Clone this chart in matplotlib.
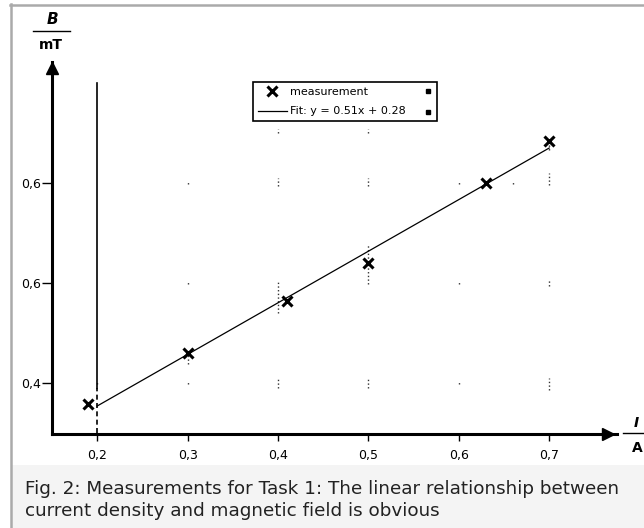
import matplotlib
matplotlib.use("Agg")
import matplotlib.pyplot as plt
from matplotlib.lines import Line2D
from matplotlib.patches import Rectangle

meas_x = [0.19, 0.30, 0.41, 0.50, 0.63, 0.70]
meas_y = [0.358, 0.460, 0.564, 0.641, 0.800, 0.884]
fit_x = [0.20, 0.70]
fit_y = [0.354, 0.870]

x_ticks = [0.2, 0.3, 0.4, 0.5, 0.6, 0.7]
x_labels = ['0,2', '0,3', '0,4', '0,5', '0,6', '0,7']
y_ticks = [0.4, 0.6, 0.8]
y_labels = ['0,4', '0,6', '0,6']

# faint grid fragments (x, y bottom, y top)
grid_x = [0.4, 0.5, 0.3, 0.4, 0.5, 0.6, 0.66, 0.7,
          0.4, 0.5, 0.3, 0.7,
          0.3, 0.6, 0.7,
          0.2, 0.3, 0.4, 0.5, 0.6, 0.7]
grid_lo = [0.900, 0.900, 0.798, 0.794, 0.794, 0.798, 0.798, 0.796,
           0.540, 0.598, 0.438, 0.866,
           0.598, 0.598, 0.594,
           0.398, 0.398, 0.390, 0.390, 0.398, 0.386]
grid_hi = [0.908, 0.908, 0.802, 0.810, 0.810, 0.802, 0.802, 0.820,
           0.606, 0.678, 0.458, 0.878,
           0.602, 0.602, 0.606,
           0.402, 0.402, 0.410, 0.410, 0.402, 0.410]

caption = ("Fig. 2: Measurements for Task 1: The linear relationship between\n"
           "current density and magnetic field is obvious")

W, H = 644, 528
fig = plt.figure(figsize=(W / 100, H / 100), dpi=100)

# frame and caption area
fig.patches.append(Rectangle((12 / W, 0), 1, 1 - 465 / H, transform=fig.transFigure,
                             facecolor='#f4f4f4', edgecolor='none', zorder=0))
fig.lines.append(Line2D([11 / W, 11 / W], [0, 1 - 4 / H], transform=fig.transFigure,
                        color='#aaaaaa', lw=1.8))
fig.lines.append(Line2D([10 / W, 1], [1 - 5 / H, 1 - 5 / H], transform=fig.transFigure,
                        color='#aaaaaa', lw=1.8))

ax = fig.add_axes([52 / W, 1 - 434 / H, (617 - 52) / W, (434 - 62) / H])
ax.set_xlim(0.15, 0.775)
ax.set_ylim(0.298, 1.042)
ax.patch.set_alpha(0)

for s in ['top', 'right']:
    ax.spines[s].set_visible(False)
for s in ['left', 'bottom']:
    ax.spines[s].set_linewidth(2.2)

# arrow heads
ax.plot([0.15], [1.030], marker='^', ms=8, color='black', clip_on=False)
ax.plot([0.765], [0.298], marker='>', ms=8, color='black', clip_on=False)

ax.set_xticks(x_ticks)
ax.set_xticklabels(x_labels)
ax.set_yticks(y_ticks)
ax.set_yticklabels(y_labels)
ax.tick_params(axis='x', direction='out', length=5, width=1, pad=6, labelsize=9)
ax.tick_params(axis='y', direction='out', length=7, width=1, pad=1, labelsize=9)

ax.vlines(grid_x, grid_lo, grid_hi, colors='#333333', linestyles=':', lw=1)

# vertical marker line at 0.2
ax.plot([0.2, 0.2], [0.39, 1.0], color='black', lw=1.2)
ax.plot([0.2, 0.2], [0.30, 0.39], color='black', lw=1.2, ls=(0, (3, 2)))

ax.plot(fit_x, fit_y, color='black', lw=0.9, label='Fit: y = 0.51x + 0.28')
ax.plot(meas_x, meas_y, ls='none', marker='x', ms=7, mew=2.2, color='black',
        label='measurement')

h, l = ax.get_legend_handles_labels()
leg = ax.legend(h[::-1], l[::-1], loc='upper left',
                bbox_to_anchor=(253 / W, 1 - 124 / H, (437 - 253) / W, (124 - 82) / H),
                bbox_transform=fig.transFigure, mode='expand', borderaxespad=0,
                fancybox=False, edgecolor='black', framealpha=1,
                handlelength=2.6, handletextpad=0.3, borderpad=0.45, labelspacing=0.85,
                prop={'family': 'Liberation Sans Narrow', 'size': 8})
leg.get_frame().set_linewidth(1.2)

# small squares at the right of the legend
ax.plot([428 / W, 428 / W], [1 - 91 / H, 1 - 112 / H], ls='none', marker='s', ms=3,
        color='black', transform=fig.transFigure, clip_on=False, zorder=10)

# axis labels as fractions
fig.text(52 / W, 1 - 19 / H, 'B', ha='center', va='center', fontsize=11,
         style='italic', fontweight='bold')
fig.lines.append(Line2D([33 / W, 70 / W], [1 - 31 / H, 1 - 31 / H],
                        transform=fig.transFigure, color='black', lw=1))
fig.text(51 / W, 1 - 45 / H, 'mT', ha='center', va='center', fontsize=10,
         fontweight='bold')

fig.text(636 / W, 1 - 423 / H, 'I', ha='center', va='center', fontsize=10,
         style='italic', fontweight='bold')
fig.lines.append(Line2D([623 / W, 1], [1 - 433 / H, 1 - 433 / H],
                        transform=fig.transFigure, color='black', lw=1))
fig.text(637 / W, 1 - 448 / H, 'A', ha='center', va='center', fontsize=10,
         fontweight='bold')

fig.text(25 / W, 1 - 500 / H, caption, ha='left', va='center', fontsize=13.2,
         family='DejaVu Sans', color='#222222', linespacing=1.3)

fig.savefig('out.png', dpi=100)
